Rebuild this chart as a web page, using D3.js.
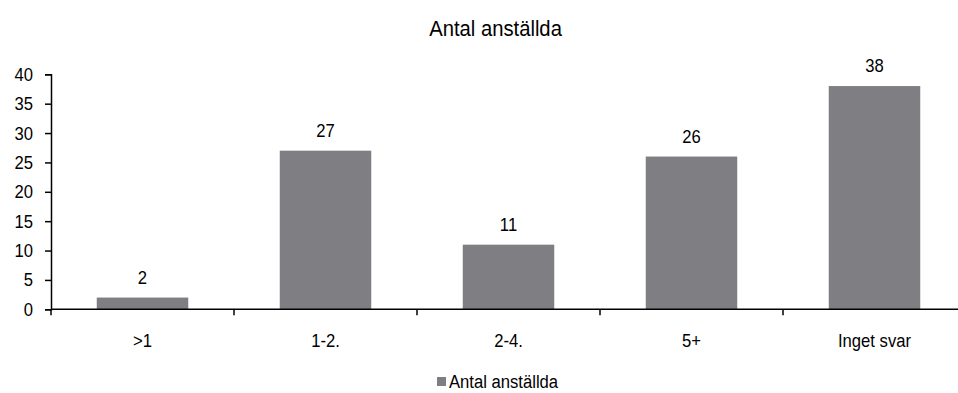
<!DOCTYPE html>
<html><head><meta charset="utf-8">
<script src="https://cdn.jsdelivr.net/npm/d3@7"></script>
<style>body{margin:0;background:#fff}svg{display:block}text{font-family:"Liberation Sans",Arial,sans-serif;fill:#000}</style>
</head><body><svg id="c" width="958" height="393"></svg>
<script>
const categories = [">1", "1-2.", "2-4.", "5+", "Inget svar"];
const values = [2, 27, 11, 26, 38];
const yTicks = [0, 5, 10, 15, 20, 25, 30, 35, 40];
const title = "Antal anställda";
const seriesName = "Antal anställda";

const svg = d3.select("#c");
const mLeft = 51, mRight = 966, mTop = 74.3, mBottom = 309.3;
const color = "#7f7e83";
const K = 0.9; // horizontal condensing of the text

function label(parent, x, y, txt, size, anchor) {
  const g = parent.append("g").attr("transform", `translate(${x},${y}) scale(${K},1)`);
  g.append("text").attr("text-anchor", anchor || "middle").style("font-size", size + "px").text(txt);
  return g;
}

const x = d3.scaleBand().domain(categories).range([mLeft, mRight]).paddingInner(0.5).paddingOuter(0.25);
const y = d3.scaleLinear().domain([0, 40]).range([mBottom, mTop]);

label(svg, 495.5, 36, title, 22.5);

svg.selectAll("rect.bar").data(values).join("rect").attr("class", "bar")
  .attr("x", (d, i) => x(categories[i])).attr("width", x.bandwidth())
  .attr("y", d => y(d)).attr("height", d => y(0) - y(d)).attr("fill", color);

values.forEach((d, i) => label(svg, x(categories[i]) + x.bandwidth() / 2, y(d) - 14, d, 18.5));

// y axis
const ya = svg.append("g").attr("transform", `translate(${mLeft},0)`)
  .call(d3.axisLeft(y).tickValues(yTicks).tickSize(6).tickFormat(""));
ya.select(".domain").attr("stroke", "#000").attr("stroke-width", 1.5);
ya.selectAll(".tick line").attr("stroke", "#000").attr("stroke-width", 1.5);
yTicks.forEach(t => label(svg, 33, y(t) + 6.5, t, 18.5, "end"));

// x axis
const step = x.step();
const xa = svg.append("g").attr("transform", `translate(0,${mBottom})`);
xa.append("line").attr("x1", mLeft).attr("x2", mRight).attr("stroke", "#000").attr("stroke-width", 1.5);
const bounds = d3.range(categories.length + 1).map(i => mLeft + i * step);
xa.selectAll("line.t").data(bounds).join("line").attr("class", "t")
  .attr("x1", d => d).attr("x2", d => d).attr("y1", 0).attr("y2", 6)
  .attr("stroke", "#000").attr("stroke-width", 1.5);
categories.forEach(c => label(svg, x(c) + x.bandwidth() / 2, mBottom + 38, c, 18.5));

// legend
svg.append("rect").attr("x", 437).attr("y", 377).attr("width", 9).attr("height", 9).attr("fill", color);
label(svg, 449, 388, seriesName, 18.5, "start");
</script></body></html>
